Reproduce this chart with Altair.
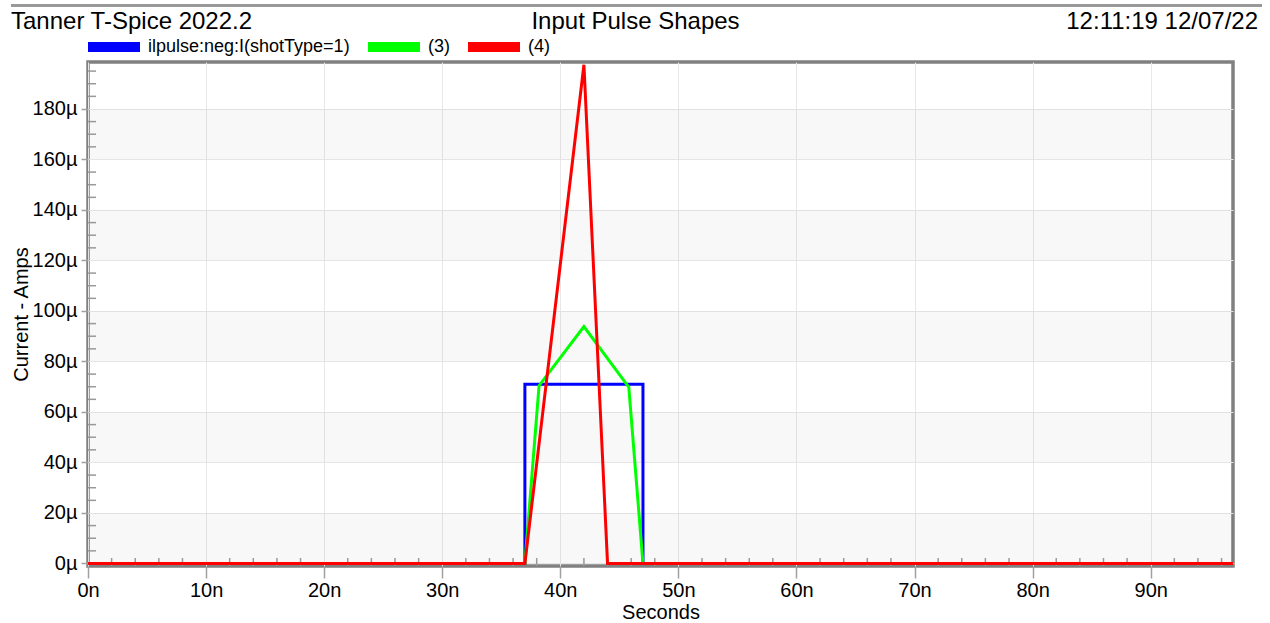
import altair as alt
import pandas as pd

FONT = "Liberation Sans"

# ---- data ----
series_names = ["ilpulse:neg:I(shotType=1)", "(3)", "(4)"]
series_colors = ["#0000ff", "#00ff00", "#ff0000"]

# time in ns, current in µA
blue_t = [0, 37, 37, 47, 47, 96.97]
blue_i = [0, 0, 71, 71, 0, 0]
green_t = [0, 37, 38.2, 42, 45.8, 47, 96.97]
green_i = [0, 0, 70.4, 93.8, 69.8, 0, 0]
red_t = [0, 37, 42, 44, 96.97]
red_i = [0, 0, 197.5, 0, 0]

x_ticks = [0, 10, 20, 30, 40, 50, 60, 70, 80, 90]
y_ticks = [0, 20, 40, 60, 80, 100, 120, 140, 160, 180]
x_minor = [v for v in range(2, 97, 2) if v % 10]
y_minor = [v for v in range(5, 199, 5) if v % 20]
band_lo = [0, 40, 80, 120, 160]
band_hi = [20, 60, 100, 140, 180]
header_left = "Tanner T-Spice 2022.2"
header_mid = "Input Pulse Shapes"
header_right = "12:11:19 12/07/22"

X_DOMAIN = [0, 96.97]
Y_DOMAIN = [-1, 198.6]
W, H = 1145, 504

# ---- tables ----
rows = []
for name, ts, vs in [(series_names[0], blue_t, blue_i),
                     (series_names[1], green_t, green_i),
                     (series_names[2], red_t, red_i)]:
    for k, (t, v) in enumerate(zip(ts, vs)):
        rows.append({"t": t, "i": v, "series": name, "idx": k})
lines_df = pd.DataFrame(rows)
bands_df = pd.DataFrame({"lo": band_lo, "hi": band_hi})
xminor_df = pd.DataFrame({"t": x_minor})
yminor_df = pd.DataFrame({"i": y_minor})

xs = alt.Scale(domain=X_DOMAIN, nice=False, zero=False)
ys = alt.Scale(domain=Y_DOMAIN, nice=False, zero=False)

x_axis = alt.Axis(
    values=x_ticks, labelExpr="datum.value + 'n'", title="Seconds",
    grid=True, gridColor="#e8e8e8", gridWidth=1, domain=False,
    tickColor="#a0a0a0", tickSize=12, tickWidth=1.5,
    labelFontSize=20, labelFont=FONT, labelColor="black", labelPadding=2,
    labelFlush=False, labelOverlap=False,
    titleFontSize=20, titleFont=FONT, titleFontWeight="normal", titleColor="black",
    titleY=52, titleBaseline="alphabetic",
)
y_axis = alt.Axis(
    values=y_ticks, labelExpr="datum.value + 'µ'", title="Current - Amps",
    grid=True, gridColor="#e8e8e8", gridWidth=1, domain=False,
    tickColor="#a0a0a0", tickSize=7, tickWidth=1.5,
    labelFontSize=20, labelFont=FONT, labelColor="black", labelPadding=4,
    labelFlush=False, labelOverlap=False,
    titleFontSize=20, titleFont=FONT, titleFontWeight="normal", titleColor="black",
    titleX=-67, titleBaseline="middle",
)


def X(field):
    return alt.X(field, type="quantitative", scale=xs, axis=x_axis)


def Y(field):
    return alt.Y(field, type="quantitative", scale=ys, axis=y_axis)


legend = alt.Legend(
    orient="none", direction="horizontal", legendX=-5, legendY=-46,
    title=None, padding=0,
    symbolType="M-1,0H1", symbolSize=2704, symbolStrokeWidth=10,
    labelFontSize=18, labelFont=FONT, labelColor="black", labelLimit=0,
    labelOffset=3, columnPadding=-2,
)
color = alt.Color("series:N", scale=alt.Scale(domain=series_names, range=series_colors),
                  legend=legend)

bands = alt.Chart(bands_df).mark_rect(color="black", opacity=0.028).encode(
    y=Y("lo"), y2="hi", x=alt.value(0), x2=alt.value(W)
)
yminor = alt.Chart(yminor_df).mark_rule(color="#999999", strokeWidth=1.5).encode(
    y=Y("i"), x=alt.value(0), x2=alt.value(8)
)
xminor = alt.Chart(xminor_df).mark_rule(color="#999999", strokeWidth=1.5).encode(
    x=X("t"), y=alt.value(H), y2=alt.value(H - 8)
)

line_layers = []
for name in series_names:
    line_layers.append(
        alt.Chart(lines_df).transform_filter(alt.datum.series == name)
        .mark_line(strokeWidth=3)
        .encode(x=X("t"), y=Y("i"), color=color, order="idx:Q")
    )

one = pd.DataFrame({"a": [0]})
hdr_rule = alt.Chart(one).mark_rule(color="#999999", strokeWidth=3).encode(
    x=alt.value(-77), x2=alt.value(1174), y=alt.value(-56.5)
)
hdr_l = alt.Chart(pd.DataFrame({"txt": [header_left]})).mark_text(
    align="left", baseline="alphabetic", fontSize=24, font=FONT, color="black"
).encode(text="txt:N", x=alt.value(-77), y=alt.value(-33))
hdr_m = alt.Chart(pd.DataFrame({"txt": [header_mid]})).mark_text(
    align="center", baseline="alphabetic", fontSize=24, font=FONT, color="black"
).encode(text="txt:N", x=alt.value(547.5), y=alt.value(-33))
hdr_r = alt.Chart(pd.DataFrame({"txt": [header_right]})).mark_text(
    align="right", baseline="alphabetic", fontSize=24, font=FONT, color="black"
).encode(text="txt:N", x=alt.value(1170), y=alt.value(-33))

chart = alt.layer(
    bands, yminor, xminor, *line_layers, hdr_rule, hdr_l, hdr_m, hdr_r
).properties(
    width=W, height=H,
    padding={"left": 88, "top": 62, "right": 37, "bottom": 57},
    autosize=alt.AutoSizeParams(type="none"),
    background="white",
).configure_view(stroke="#808080", strokeWidth=3.5)

chart.save("out.html", embed_options={"renderer": "svg", "actions": False})
